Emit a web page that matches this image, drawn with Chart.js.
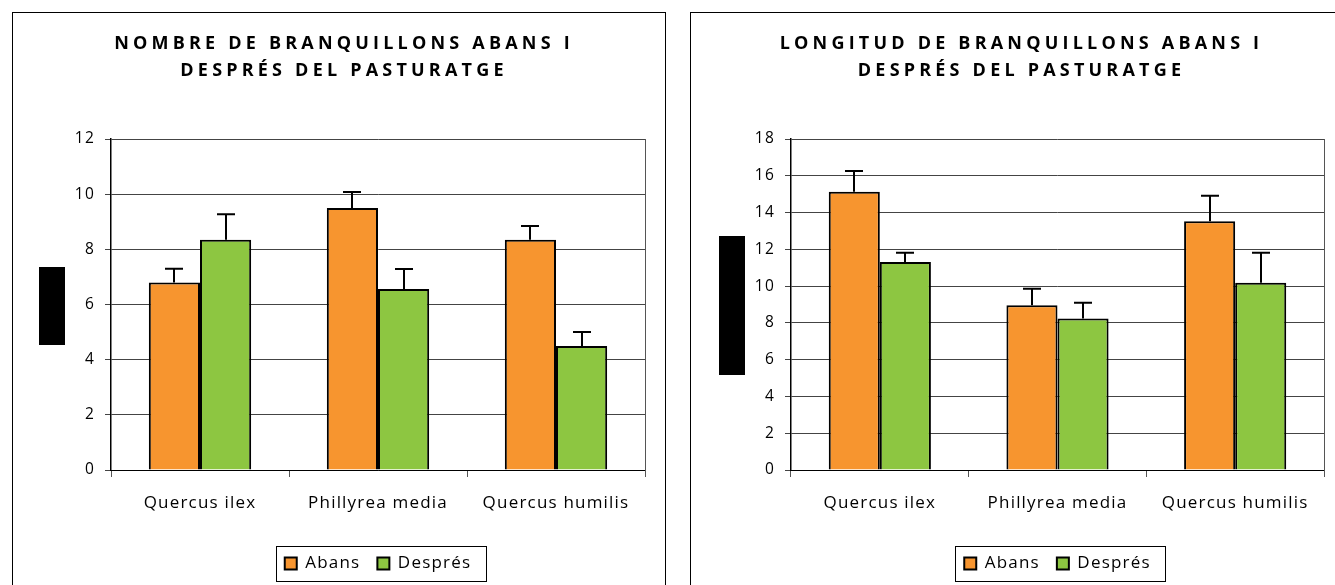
<!DOCTYPE html>
<html><head><meta charset="utf-8">
<script src="https://cdn.jsdelivr.net/npm/chart.js@4.4.0/dist/chart.umd.min.js"></script>
<style>
html,body{margin:0;padding:0;background:#fff;overflow:hidden;width:1335px;height:585px;}
.panel{position:absolute;top:12px;height:640px;border:1px solid #000;box-sizing:border-box;background:#fff;}
#p1{left:12px;width:654px;}
#p2{left:690px;width:700px;}
canvas{position:absolute;left:0;top:0;}
</style></head><body>
<div class="panel" id="p1"><canvas id="c1" width="652" height="572"></canvas></div>
<div class="panel" id="p2"><canvas id="c2" width="644" height="572"></canvas></div>
<script>
// ---- data ----
const categories = ['Quercus ilex', 'Phillyrea media', 'Quercus humilis'];
const seriesNames = ['Abans', 'Després'];
const titleNombre = ['NOMBRE DE BRANQUILLONS ABANS I', 'DESPRÉS DEL PASTURATGE'];
const titleLongitud = ['LONGITUD DE BRANQUILLONS ABANS I', 'DESPRÉS DEL PASTURATGE'];
const nombreAbans = [6.8, 9.5, 8.35];
const nombreAbansErr = [0.5, 0.58, 0.5];
const nombreDespres = [8.35, 6.56, 4.5];
const nombreDespresErr = [0.92, 0.73, 0.5];
const longitudAbans = [15.13, 8.96, 13.53];
const longitudAbansErr = [1.13, 0.9, 1.38];
const longitudDespres = [11.31, 8.24, 10.18];
const longitudDespresErr = [0.51, 0.85, 1.64];
const nombreTicks = [0, 2, 4, 6, 8, 10, 12];
const longitudTicks = [0, 2, 4, 6, 8, 10, 12, 14, 16, 18];

const ORANGE = '#F7952F';
const GREEN = '#8DC641';
const FONT = "'Open Sans', 'DejaVu Sans', sans-serif";

// ---- plugins ----
const spacingPlugin = {
  id: 'spacing',
  afterInit(chart, args, opts) {
    const tb = chart.titleBlock;
    if (tb) {
      const orig = tb.draw;
      tb.draw = function (...a) {
        const c = chart.ctx;
        c.save();
        c.letterSpacing = opts.title + 'px';
        c.translate(opts.titleShift, 0);
        orig.apply(this, a);
        c.restore();
      };
    }
  },
  beforeUpdate(chart, args, opts) { chart.ctx.letterSpacing = opts.text + 'px'; },
  beforeDraw(chart, args, opts) { chart.ctx.letterSpacing = opts.text + 'px'; }
};

const errorBars = {
  id: 'errorBars',
  afterDatasetsDraw(chart, args, opts) {
    const ctx = chart.ctx, y = chart.scales.y;
    ctx.save();
    ctx.strokeStyle = '#000'; ctx.lineWidth = 2;
    chart.data.datasets.forEach((ds, i) => {
      const meta = chart.getDatasetMeta(i);
      meta.data.forEach((bar, j) => {
        const top = y.getPixelForValue(ds.data[j] + ds.errors[j]);
        const x = Math.round(bar.x);
        ctx.beginPath();
        ctx.moveTo(x, bar.y); ctx.lineTo(x, top);
        ctx.moveTo(x - opts.cap / 2, top); ctx.lineTo(x + opts.cap / 2, top);
        ctx.stroke();
      });
    });
    ctx.restore();
  }
};

const frame = {
  id: 'frame',
  afterDraw(chart, args, opts) {
    const ctx = chart.ctx, a = chart.chartArea;
    ctx.save();
    ctx.strokeStyle = '#555'; ctx.lineWidth = 1;
    ctx.beginPath(); ctx.moveTo(Math.round(a.right) + 0.5, a.top); ctx.lineTo(Math.round(a.right) + 0.5, a.bottom + 7); ctx.stroke();
    const hb = chart.legend.legendHitBoxes;
    if (hb && hb.length) {
      const l = hb[0].left - opts.legendPadL;
      const r = hb[hb.length - 1].left + hb[hb.length - 1].width + opts.legendPadR;
      const cy = hb[0].top + hb[0].height / 2;
      ctx.strokeStyle = '#000'; ctx.lineWidth = 1;
      ctx.strokeRect(Math.round(l) + 0.5, Math.round(cy - opts.legendH / 2) + 0.5, Math.round(r - l), opts.legendH);
    }
    ctx.fillStyle = '#000';
    const b = opts.block;
    ctx.fillRect(b[0], b[1], b[2], b[3]);
    ctx.restore();
  }
};

function makeChart(id, title, abans, abansErr, despres, despresErr, ticks, padL, padR, block, shift) {
  return new Chart(document.getElementById(id), {
    type: 'bar',
    data: {
      labels: categories,
      datasets: [
        { label: seriesNames[0], data: abans, errors: abansErr, backgroundColor: ORANGE, borderColor: '#000', borderWidth: 2,
          categoryPercentage: 0.575, barPercentage: 1 },
        { label: seriesNames[1], data: despres, errors: despresErr, backgroundColor: GREEN, borderColor: '#000', borderWidth: 2,
          categoryPercentage: 0.575, barPercentage: 1 }
      ]
    },
    plugins: [spacingPlugin, errorBars, frame],
    options: {
      responsive: false,
      animation: false,
      events: [],
      layout: { padding: { left: padL, right: padR, top: 0, bottom: 3 } },
      plugins: {
        spacing: { title: 4.2, text: 1.2, titleShift: shift },
        errorBars: { cap: 18 },
        frame: { legendPadL: 9, legendPadR: 14, legendH: 35, block: block },
        tooltip: { enabled: false },
        title: {
          display: true, text: title, color: '#000',
          font: { family: FONT, size: 18, weight: 'bold', lineHeight: 1.5 },
          padding: { top: 17, bottom: 55 }
        },
        legend: {
          display: true, position: 'bottom', fullSize: false,
          labels: { color: '#000', font: { family: FONT, size: 17 }, boxWidth: 12, boxHeight: 12, padding: 17 }
        }
      },
      scales: {
        x: {
          afterFit(s) { s.height = 68; },
          grid: { display: true, offset: true, drawOnChartArea: false, drawTicks: true, tickLength: 7, color: '#555' },
          border: { display: true, color: '#000', width: 1 },
          ticks: { color: '#000', font: { family: FONT, size: 17 }, padding: 16, maxRotation: 0 }
        },
        y: {
          min: ticks[0], max: ticks[ticks.length - 1],
          afterFit(s) { s.width = 40; },
          afterBuildTicks(s) { s.ticks = ticks.map(v => ({ value: v })); },
          grid: { color: '#444', lineWidth: 1, tickLength: 6, drawTicks: true },
          border: { display: true, color: '#000', width: 1.5 },
          ticks: { color: '#000', font: { family: FONT, size: 15.5 }, padding: 10 }
        }
      }
    }
  });
}

makeChart('c1', titleNombre, nombreAbans, nombreAbansErr, nombreDespres, nombreDespresErr, nombreTicks, 58, 20, [26, 254, 26, 78], -14);
makeChart('c2', titleLongitud, longitudAbans, longitudAbansErr, longitudDespres, longitudDespresErr, longitudTicks, 60, 11, [28, 223, 26, 139], -16);
</script>
</body></html>
